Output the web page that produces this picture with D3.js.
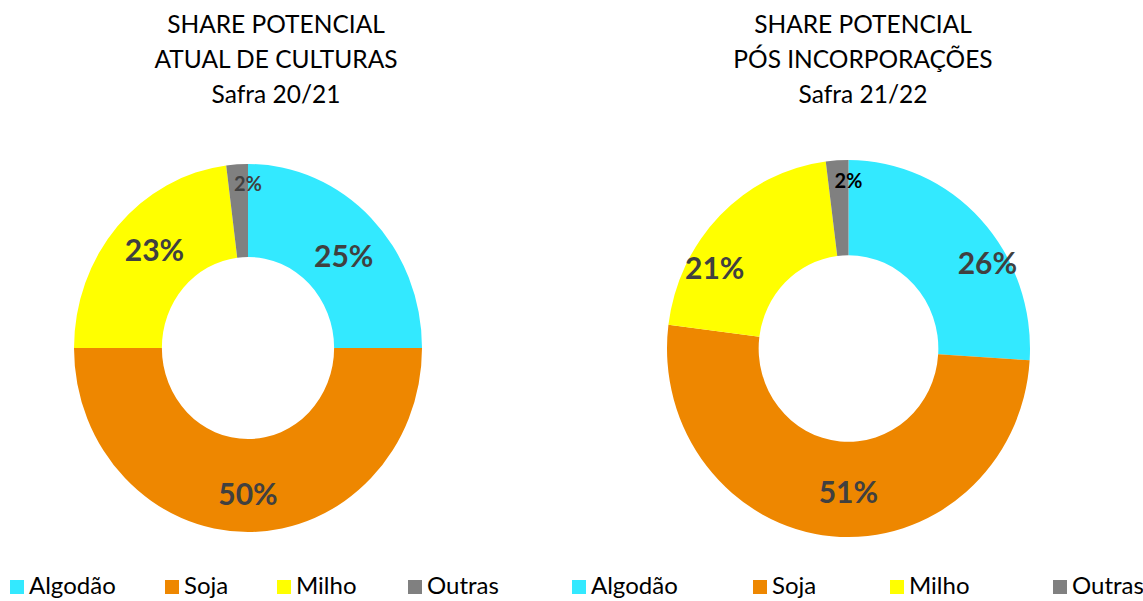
<!DOCTYPE html>
<html>
<head>
<meta charset="utf-8">
<script src="https://cdn.jsdelivr.net/npm/d3@7"></script>
<style>
  body { margin: 0; background: #fff; }
  svg { font-family: Lato, "Open Sans", sans-serif; }
</style>
</head>
<body>
<svg id="chart" width="1143" height="601"></svg>
<script>
var categories = ["Algodão", "Soja", "Milho", "Outras"];
var safra2021 = [25, 50, 23, 2];
var safra2122 = [26, 51, 21, 2];
var titles2021 = ["SHARE POTENCIAL", "ATUAL DE CULTURAS", "Safra 20/21"];
var titles2122 = ["SHARE POTENCIAL", "PÓS INCORPORAÇÕES", "Safra 21/22"];
var colors = ["#33E9FF", "#EE8700", "#FFFF00", "#808080"];

var svg = d3.select("#chart");

var color = d3.scaleOrdinal().domain(categories).range(colors);

var pie = d3.pie()
    .value(function(d) { return d.value; })
    .sort(null);

// one donut per safra
// opt: centre, radii, title x, legend x, legend gaps, label nudges (excel "best fit" moves them a bit)
function drawDonut(values, titles, opt) {
    var rx = opt.rx, ry = opt.ry;
    var data = categories.map(function(c, i) { return {name: c, value: values[i]}; });
    var arcs = pie(data);
    var arc = d3.arc().innerRadius(rx * 0.495).outerRadius(rx);
    var labelArc = d3.arc().innerRadius(rx * 0.77).outerRadius(rx * 0.77);

    var g = svg.append("g").attr("transform", "translate(" + opt.cx + "," + opt.cy + ")");

    g.append("g")
        .attr("transform", "scale(1," + (ry / rx) + ")")
        .selectAll("path")
        .data(arcs)
        .enter()
        .append("path")
        .attr("d", arc)
        .attr("fill", function(d) { return color(d.data.name); });

    g.selectAll("text")
        .data(arcs)
        .enter()
        .append("text")
        .attr("x", function(d, i) {
            var x = d.data.value < 5 ? 0 : labelArc.centroid(d)[0];
            return x + opt.nudge[i][0];
        })
        .attr("y", function(d, i) {
            var y = d.data.value < 5 ? -ry + 20 : labelArc.centroid(d)[1] * ry / rx;
            return y + opt.nudge[i][1];
        })
        .attr("text-anchor", "middle")
        .attr("dominant-baseline", "central")
        .attr("font-weight", "bold")
        .attr("font-size", function(d) { return d.data.value < 5 ? "20px" : "30px"; })
        .attr("fill", function(d) { return d.data.value < 5 ? opt.smallColor : "#404040"; })
        .text(function(d) { return d.data.value + "%"; });

    svg.append("g")
        .selectAll("text")
        .data(titles)
        .enter()
        .append("text")
        .attr("x", opt.titleX)
        .attr("y", function(d, i) { return 33 + i * 35; })
        .attr("text-anchor", "middle")
        .attr("font-size", "24.5px")
        .attr("fill", "#000")
        .text(function(d) { return d; });

    var leg = svg.append("g")
        .selectAll("g")
        .data(categories)
        .enter()
        .append("g")
        .attr("transform", function(d, i) { return "translate(" + (opt.legendX + opt.legendGap[i]) + ",594)"; });

    leg.append("rect")
        .attr("x", 0)
        .attr("y", -14)
        .attr("width", 14)
        .attr("height", 14)
        .attr("fill", function(d) { return color(d); });

    leg.append("text")
        .attr("x", 19)
        .attr("y", 0)
        .attr("font-size", "24px")
        .attr("fill", "#000")
        .text(function(d) { return d; });
}

drawDonut(safra2021, titles2021, {
    cx: 248, cy: 348, rx: 174, ry: 184, titleX: 276,
    legendX: 10, legendGap: [0, 155, 267, 398],
    nudge: [[1, 7], [0, 3], [7, -5], [0, -1]], smallColor: "#404040"
});
drawDonut(safra2122, titles2122, {
    cx: 848.5, cy: 348.5, rx: 181.5, ry: 188.5, titleX: 863,
    legendX: 572, legendGap: [0, 181, 318, 481],
    nudge: [[37, 13], [13, -2], [-35, 21], [0, 0]], smallColor: "#000"
});
</script>
</body>
</html>
